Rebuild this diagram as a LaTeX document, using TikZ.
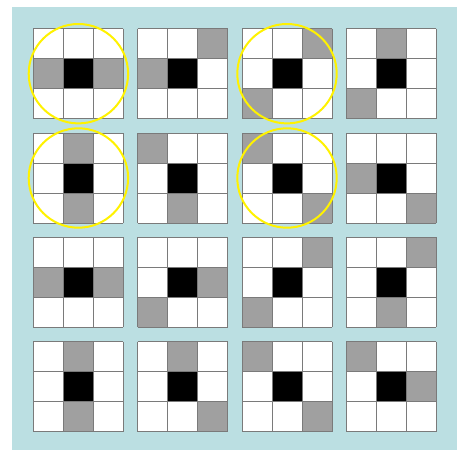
\documentclass[tikz,border=0pt]{standalone}
\definecolor{bgblue}{HTML}{BBDFE2}
\definecolor{cellgray}{HTML}{A0A0A0}
\definecolor{linegray}{HTML}{7A7A7A}
\tikzset{
  bgfill/.style={fill=bgblue},
  graycell/.style={fill=cellgray},
  centercell/.style={fill=black},
  gridline/.style={draw=linegray,line width=0.9pt},
  ring/.style={draw=yellow,line width=2pt}
}
\begin{document}
\begin{tikzpicture}[x=1pt,y=-1pt]
\useasboundingbox (0,0) rectangle (457,450);
\fill[bgfill] (12,7) rectangle (457,450);
\foreach \rr/\cl/\ax/\ay/\bx/\by/\cc in {
  0/0/0/1/2/1/1, 0/1/2/0/0/1/0, 0/2/2/0/0/2/1, 0/3/1/0/0/2/0,
  1/0/1/0/1/2/1, 1/1/0/0/1/2/0, 1/2/0/0/2/2/1, 1/3/0/1/2/2/0,
  2/0/0/1/2/1/0, 2/1/2/1/0/2/0, 2/2/2/0/0/2/0, 2/3/2/0/1/2/0,
  3/0/1/0/1/2/0, 3/1/1/0/2/2/0, 3/2/0/0/2/2/0, 3/3/0/0/2/1/0}
{
  \begin{scope}[shift={(33.4+104.3*\cl,28.7+104.3*\rr)}]
    \fill[white] (0,0) rectangle (90,90);
    \fill[graycell] (30*\ax,30*\ay) rectangle ++(30,30);
    \fill[graycell] (30*\bx,30*\by) rectangle ++(30,30);
    \fill[centercell] (30,30) rectangle (60,60);
    \foreach \k in {0,30,60,90} {
      \draw[gridline] (\k,0) -- (\k,90);
      \draw[gridline] (0,\k) -- (90,\k);
    }
    \ifnum\cc=1
      \draw[ring] (45,45) circle[radius=49.7];
    \fi
  \end{scope}
}
\end{tikzpicture}
\end{document}
